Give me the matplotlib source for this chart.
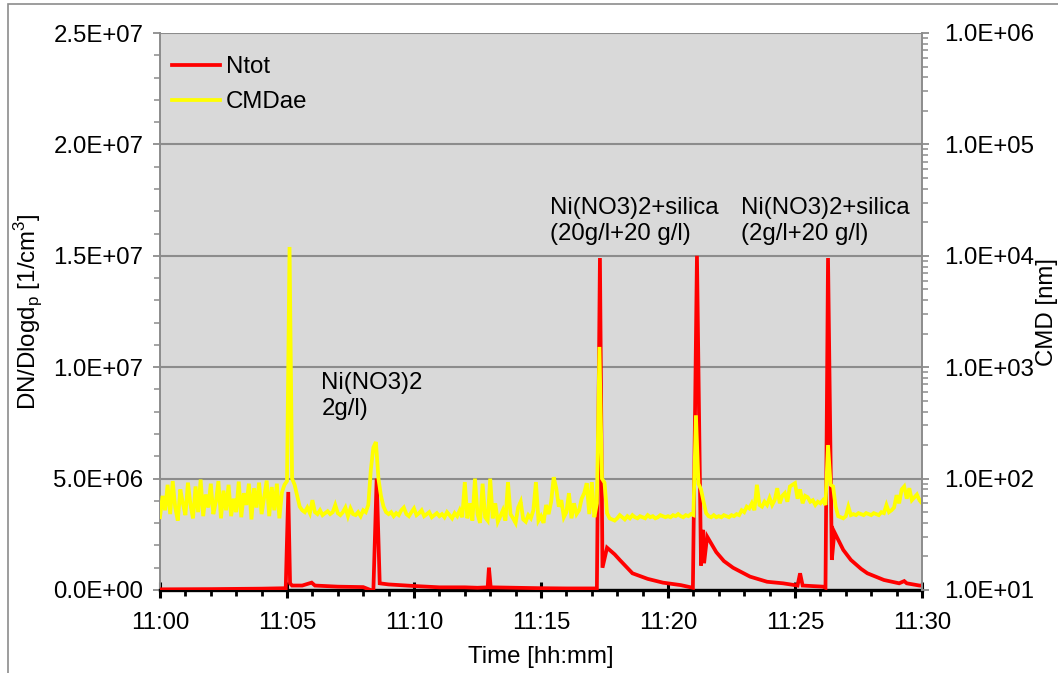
import matplotlib

matplotlib.use("Agg")
import matplotlib.pyplot as plt
import numpy as np
from matplotlib.patches import Rectangle
from matplotlib.ticker import FuncFormatter, MultipleLocator, LogLocator, NullFormatter

plt.rcParams["font.family"] = ["Liberation Sans Narrow", "Liberation Sans", "DejaVu Sans"]
plt.rcParams["font.size"] = 17.3

# --- data --------------------------------------------------------------------
# Ntot: minutes after 11:00, DN/Dlogdp in units of 1e6 1/cm3
ntot_min = [0.0, 2.0, 4.0, 4.95, 5.05, 5.12, 5.2, 5.6, 5.97, 6.1, 7.0, 8.0,
            8.4, 8.53, 8.65, 9.0, 10.0, 11.0, 12.0, 12.5, 12.9, 12.95, 13.02,
            14.0, 15.0, 16.0, 17.2, 17.32, 17.42, 17.6, 17.9, 18.1, 18.6, 19.2,
            19.8, 20.5, 20.98, 21.14, 21.3, 21.37, 21.42, 21.54, 21.9, 22.2,
            22.56, 23.23, 23.9, 24.53, 25.1, 25.2, 25.3, 26.1, 26.2, 26.3,
            26.45, 26.55, 26.9, 27.2, 27.6, 27.85, 28.5, 29.1, 29.3, 29.4,
            29.9, 30.0]
ntot_e6 = [0.03, 0.04, 0.06, 0.08, 4.4, 0.3, 0.2, 0.2, 0.33, 0.2, 0.15, 0.13,
           -0.05, 5.0, 0.3, 0.25, 0.18, 0.12, 0.12, 0.1, 0.12, 1.0, 0.12,
           0.1, 0.08, 0.07, 0.07, 14.9, 1.0, 1.9, 1.6, 1.35, 0.75, 0.5,
           0.33, 0.22, 0.1, 15.0, 1.1, 2.7, 1.2, 2.4, 1.7, 1.3,
           1.0, 0.6, 0.37, 0.3, 0.2, 0.75, 0.2, 0.15, 0.1, 14.9,
           1.35, 2.6, 1.8, 1.35, 0.95, 0.75, 0.45, 0.3, 0.4, 0.3,
           0.2, 0.2]

# CMDae [nm], sampled every 0.1 min from 11:00 to 11:30 (one row per minute)
cmd_nm = [
    45, 70, 52, 88, 48, 95, 55, 42, 80, 60,
    47, 92, 58, 44, 85, 50, 98, 46, 72, 55,
    90, 48, 62, 95, 44, 78, 52, 88, 46, 66,
    50, 94, 45, 74, 58, 90, 43, 82, 55, 92,
    48, 68, 96, 46, 84, 52, 90, 44, 75, 88,
    95, 12000, 100, 88, 70, 56, 52, 50, 55, 49,
    64, 50, 48, 52, 47, 49, 51, 48, 50, 58,
    49, 47, 50, 55, 46, 54, 48, 47, 50, 46,
    52, 50, 58, 120, 190, 213, 100, 70, 56, 50,
    48, 50, 46, 49, 47, 52, 55, 48, 46, 50,
    54, 47, 49, 52, 46, 48, 50, 45, 47, 49,
    46, 48, 45, 50, 47, 44, 49, 46, 52, 45,
    93, 44, 60, 42, 100, 48, 40, 90, 45, 42,
    100, 44, 60, 41, 46, 52, 42, 93, 48, 44,
    40, 55, 62, 43, 41, 47, 44, 52, 93, 42,
    46, 40, 58, 48, 62, 103, 82, 56, 64, 45,
    50, 74, 44, 60, 48, 52, 66, 74, 91, 48,
    93, 45, 60, 1520, 100, 92, 49, 44, 43, 42,
    44, 47, 45, 43, 46, 44, 47, 45, 44, 46,
    45, 44, 47, 45, 46, 44, 45, 47, 46, 45,
    46, 45, 47, 46, 48, 46, 45, 47, 46, 48,
    47, 370, 90, 80, 62, 49, 46, 45, 47, 45,
    46, 45, 47, 46, 45, 47, 46, 48, 47, 52,
    50, 56, 54, 60, 52, 88, 58, 56, 62, 58,
    67, 58, 64, 82, 60, 70, 74, 62, 85, 88,
    91, 66, 80, 60, 70, 68, 62, 64, 58, 62,
    60, 64, 58, 200, 88, 85, 56, 46, 45, 44,
    46, 56, 47, 48, 47, 49, 48, 47, 49, 48,
    47, 49, 48, 47, 50, 49, 58, 50, 52, 55,
    71, 60, 80, 85, 66, 82, 64, 68, 72, 64,
    60,
]
cmd_min = np.arange(len(cmd_nm)) * 0.1

annotations = [
    ("Ni(NO3)2\n2g/l)", 6.35, 8.7),
    ("Ni(NO3)2+silica\n(20g/l+20 g/l)", 15.35, 16.55),
    ("Ni(NO3)2+silica\n(2g/l+20 g/l)", 22.87, 16.55),
]

# --- figure ------------------------------------------------------------------
W, H = 1058, 673
fig = plt.figure(figsize=(W / 100, H / 100), dpi=100)
fig.patches.append(Rectangle((8 / W, -0.02), 1.1, 1 - 4 / H + 0.02,
                             transform=fig.transFigure, fill=False,
                             edgecolor="#8c8c8c", lw=1.2))

ax = fig.add_axes([160 / W, 1 - 590 / H, (922 - 160) / W, (590 - 33) / H])
ax.set_facecolor("#d9d9d9")
ax.set_axisbelow(True)
ax.plot(ntot_min, np.array(ntot_e6) * 1e6, color="#ff0000", lw=2.7,
        label="Ntot", solid_joinstyle="miter", zorder=3)
ax.set_xlim(0, 30)
ax.set_ylim(0, 2.5e7)
ax.yaxis.set_major_locator(MultipleLocator(5e6))
ax.yaxis.set_minor_locator(MultipleLocator(1e6))
ax.yaxis.set_major_formatter(FuncFormatter(lambda v, p: f"{v:.1E}"))
ax.xaxis.set_major_locator(MultipleLocator(5))
ax.xaxis.set_minor_locator(MultipleLocator(1))
ax.xaxis.set_major_formatter(FuncFormatter(lambda v, p: f"11:{int(round(v)):02d}"))
ax.grid(axis="y", which="major", color="#8c8c8c", lw=1.5)

ax.spines["top"].set_visible(False)
ax.spines["left"].set_color("#8c8c8c")
ax.spines["left"].set_linewidth(1.4)
ax.spines["right"].set_visible(False)
ax.spines["bottom"].set_color("black")
ax.spines["bottom"].set_linewidth(2.4)
ax.spines["bottom"].set_zorder(2.5)

ax.tick_params(axis="x", which="major", direction="inout", length=11, width=2.2,
               color="black", pad=10)
ax.tick_params(axis="x", which="minor", direction="out", length=4.5, width=2.0,
               color="black")
ax.tick_params(axis="y", which="major", direction="out", length=5, width=1.3,
               color="#8c8c8c", pad=7)
ax.tick_params(axis="y", which="minor", direction="out", length=4, width=1.1,
               color="#8c8c8c")
ax.set_xlabel("Time [hh:mm]", labelpad=9)
ax.set_ylabel(r"DN/Dlogd$_\mathregular{p}$ [1/cm$^\mathregular{3}$]", labelpad=6)

ax2 = ax.twinx()
ax2.set_yscale("log")
ax2.set_ylim(10, 1e6)
ax2.plot(cmd_min, cmd_nm, color="#ffff00", lw=2.7, label="CMDae",
         solid_joinstyle="miter")
ax2.yaxis.set_major_locator(LogLocator(base=10))
ax2.yaxis.set_minor_locator(LogLocator(base=10, subs=np.arange(2, 10)))
ax2.yaxis.set_minor_formatter(NullFormatter())
ax2.yaxis.set_major_formatter(FuncFormatter(lambda v, p: f"{v:.1E}"))
for s in ("top", "left", "bottom"):
    ax2.spines[s].set_visible(False)
ax2.spines["right"].set_color("#8c8c8c")
ax2.spines["right"].set_linewidth(1.4)
ax2.tick_params(axis="y", which="major", direction="out", length=5, width=1.3,
                color="#8c8c8c", pad=11)
ax2.tick_params(axis="y", which="minor", direction="out", length=4, width=1.1,
                color="#8c8c8c")
ax2.set_ylabel("CMD [nm]", labelpad=1)

for txt, xm, yv in annotations:
    ax.text(xm, yv * 1e6, txt, ha="left", va="center", linespacing=1.25,
            zorder=4,
            bbox=dict(facecolor="#d9d9d9", edgecolor="none", pad=1.5))

h1, l1 = ax.get_legend_handles_labels()
h2, l2 = ax2.get_legend_handles_labels()
ax2.legend(h1 + h2, l1 + l2, loc="upper left", frameon=False,
           handlelength=2.0, handletextpad=0.25, labelspacing=0.55,
           borderaxespad=0.1, bbox_to_anchor=(0.0, 0.98))

fig.savefig("out.png", dpi=100)
